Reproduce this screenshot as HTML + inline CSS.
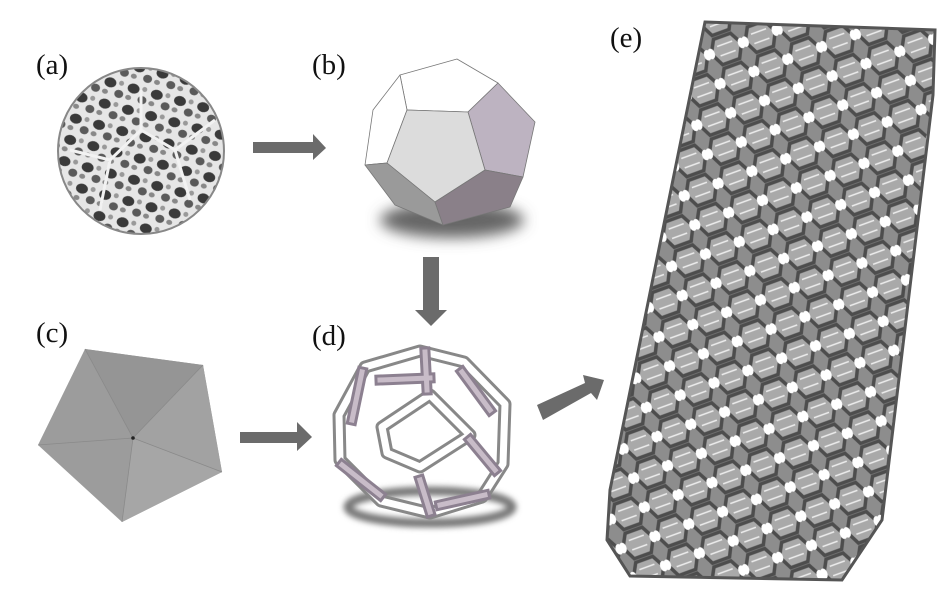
<!DOCTYPE html>
<html><head><meta charset="utf-8"><style>
html,body{margin:0;padding:0;background:#fff;}
svg{display:block;}
text{font-family:"Liberation Serif",serif;font-size:29px;fill:#111;}
</style></head><body>
<svg width="945" height="591" viewBox="0 0 945 591" xmlns="http://www.w3.org/2000/svg">
<defs>
  <pattern id="foam" width="24" height="22" patternUnits="userSpaceOnUse" patternTransform="rotate(15)">
    <rect width="24" height="22" fill="#e6e6e6"/>
    <ellipse cx="8" cy="7" rx="6" ry="5" fill="#3a3a3a"/>
    <ellipse cx="19" cy="16" rx="4.5" ry="4" fill="#5a5a5a"/>
    <ellipse cx="5" cy="17" rx="3" ry="2.5" fill="#888"/>
    <ellipse cx="19" cy="5" rx="2.5" ry="2.5" fill="#999"/>
  </pattern>
  <pattern id="latt" width="36" height="31" patternUnits="userSpaceOnUse" patternTransform="rotate(-20)">
    <rect width="36" height="31" fill="#8d8d8d"/>
    <polygon points="9,2 27,2 34,15 27,29 9,29 2,15" fill="#a9a9a9" stroke="#4d4d4d" stroke-width="3.5"/>
    <line x1="10" y1="10" x2="26" y2="10" stroke="#eee" stroke-width="1.5"/>
    <line x1="10" y1="20" x2="26" y2="20" stroke="#eee" stroke-width="1.5"/>
    <ellipse cx="2" cy="15" rx="3.5" ry="5.5" fill="#fff"/>
    <ellipse cx="34" cy="15" rx="3.5" ry="5.5" fill="#fff"/>
  </pattern>
  <clipPath id="cc"><circle cx="141" cy="151" r="83"/></clipPath>
  <filter id="blur" x="-50%" y="-50%" width="200%" height="200%"><feGaussianBlur stdDeviation="7"/></filter>
  <filter id="blur2" x="-50%" y="-50%" width="200%" height="200%"><feGaussianBlur stdDeviation="3"/></filter>
</defs>

<!-- labels -->
<text x="36" y="74">(a)</text>
<text x="312" y="74">(b)</text>
<text x="36" y="342">(c)</text>
<text x="312" y="345">(d)</text>
<text x="610" y="47">(e)</text>

<!-- (a) foam circle -->
<g clip-path="url(#cc)">
  <rect x="50" y="60" width="190" height="190" fill="url(#foam)"/>
  <path d="M141 90 L141 130 L110 160 L100 210 M141 130 L175 150 L190 200 M110 160 L70 150 M175 150 L215 120" stroke="#f2f2f2" stroke-width="3" fill="none"/>
</g>
<circle cx="141" cy="151" r="83" fill="none" stroke="#888" stroke-width="2"/>

<!-- arrows -->
<g fill="#6b6b6b">
  <polygon points="253,142 313,142 313,134 326,148 313,160 313,153 253,153"/>
  <polygon points="423,257 439,257 439,310 447,310 431,326 415,310 423,310"/>
  <polygon points="240,432 297,432 297,422 312,437 297,451 297,443 240,443"/>
  <polygon points="537,405 585,383 583,375 604,380 597,400 591,393 543,420"/>
</g>

<!-- (b) dodecahedron -->
<ellipse cx="452" cy="220" rx="72" ry="18" fill="#666" filter="url(#blur)"/>
<g stroke="#777" stroke-width="0.8" stroke-linejoin="round">
  <polygon points="400,75 457,59 498,83 468,112 407,110" fill="#fff"/>
  <polygon points="373,110 400,75 407,110 387,163 365,165" fill="#fff"/>
  <polygon points="498,83 535,122 523,177 485,170 468,112" fill="#bdb3c1"/>
  <polygon points="407,110 468,112 485,170 435,202 387,163" fill="#dcdcdc"/>
  <polygon points="365,165 387,163 435,202 443,225 395,205" fill="#9a9a9a"/>
  <polygon points="485,170 523,177 510,207 443,225 435,202" fill="#8a8089"/>
</g>

<!-- (c) pentagon -->
<polygon points="85,349 203,365 222,472 122,522 38,445" fill="#9c9c9c"/>
<polygon points="133,438 85,349 203,365" fill="#959595"/>
<polygon points="133,438 203,365 222,472" fill="#a2a2a2"/>
<polygon points="133,438 222,472 122,522" fill="#a6a6a6"/>
<g stroke="#8a8a8a" stroke-width="0.8">
  <line x1="133" y1="438" x2="85" y2="349"/><line x1="133" y1="438" x2="203" y2="365"/>
  <line x1="133" y1="438" x2="222" y2="472"/><line x1="133" y1="438" x2="122" y2="522"/>
  <line x1="133" y1="438" x2="38" y2="445"/>
</g>
<circle cx="133" cy="438" r="1.8" fill="#222"/>

<!-- (d) frame dodecahedron -->
<ellipse cx="430" cy="507" rx="82" ry="16" fill="none" stroke="#777" stroke-width="9" filter="url(#blur2)"/>
<g stroke-linejoin="round" fill="none" stroke-linecap="square">
  <polygon points="420,351 464,362 505,404 503,464 482,497 430,513 381,501 340,460 339,415 365,367" stroke="#888" stroke-width="13"/>
  <polygon points="420,351 464,362 505,404 503,464 482,497 430,513 381,501 340,460 339,415 365,367" stroke="#fff" stroke-width="7"/>
  <polygon points="430,395 470,435 420,467 387,453 382,427" stroke="#888" stroke-width="13"/>
  <polygon points="430,395 470,435 420,467 387,453 382,427" stroke="#fff" stroke-width="7"/>
  <g stroke="#8c8090" stroke-width="11">
    <line x1="380" y1="380" x2="430" y2="378"/>
    <line x1="462" y1="372" x2="490" y2="410"/>
    <line x1="362" y1="372" x2="352" y2="420"/>
    <line x1="470" y1="440" x2="495" y2="470"/>
    <line x1="342" y1="465" x2="380" y2="495"/>
    <line x1="420" y1="480" x2="430" y2="512"/>
    <line x1="440" y1="505" x2="485" y2="495"/>
    <line x1="425" y1="352" x2="427" y2="390"/>
  </g>
  <g stroke="#c8bcc8" stroke-width="5">
    <line x1="380" y1="380" x2="430" y2="378"/>
    <line x1="462" y1="372" x2="490" y2="410"/>
    <line x1="362" y1="372" x2="352" y2="420"/>
    <line x1="470" y1="440" x2="495" y2="470"/>
    <line x1="342" y1="465" x2="380" y2="495"/>
    <line x1="420" y1="480" x2="430" y2="512"/>
    <line x1="440" y1="505" x2="485" y2="495"/>
    <line x1="425" y1="352" x2="427" y2="390"/>
  </g>
</g>

<!-- (e) lattice -->
<polygon points="705,22 935,30 933,95 882,520 842,580 630,576 607,540 610,490" fill="url(#latt)" stroke="#555" stroke-width="3"/>
</svg>
</body></html>
